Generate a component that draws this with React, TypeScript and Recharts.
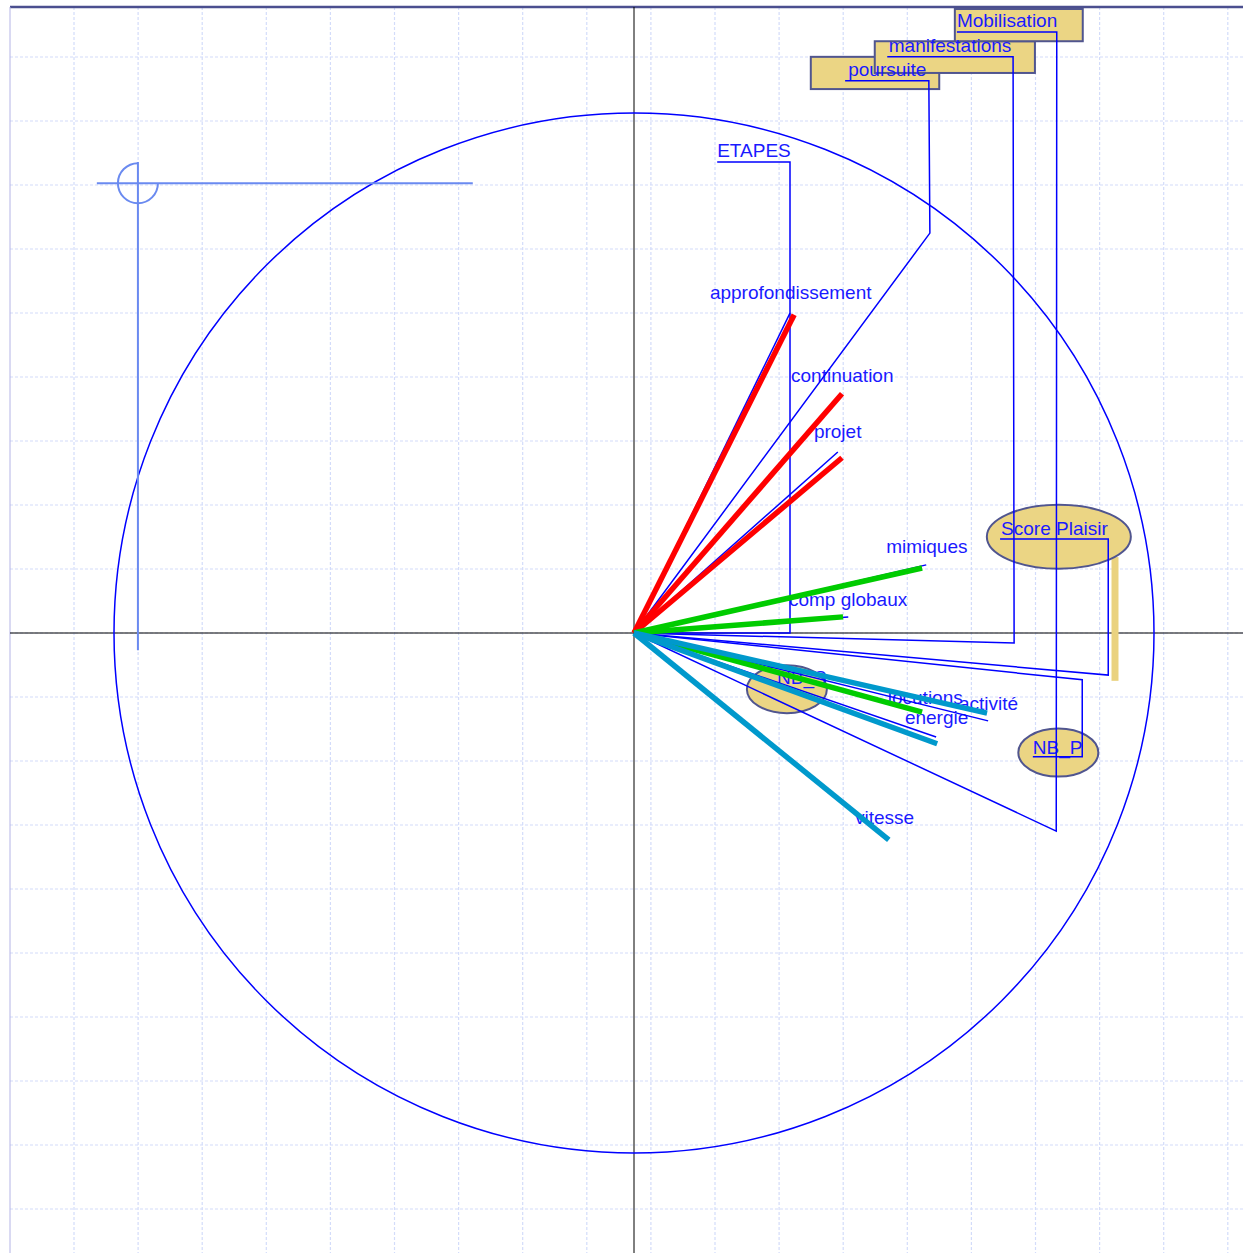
import React from 'react'
import {
  ScatterChart,
  Scatter,
  XAxis,
  YAxis,
  CartesianGrid,
  ReferenceLine,
} from 'recharts'

const W = 1243
const H = 1253
// plot frame and where the unit circle sits on the page
const LEFT = 10
const TOP = 7
const OX = 634
const OY = 633
const R = 520
const X_DOMAIN = [(LEFT - OX) / R, (W - OX) / R]
const Y_DOMAIN = [(OY - H) / R, (OY - TOP) / R]

// active variables (thick coloured vectors)
const redNames = ['approfondissement', 'continuation', 'projet']
const redX = [0.308, 0.4, 0.4]
const redY = [0.612, 0.46, 0.337]

const greenNames = ['mimiques', 'comp globaux', 'locutions']
const greenX = [0.554, 0.402, 0.554]
const greenY = [0.125, 0.031, -0.152]

const tealNames = ['activité', 'energie', 'vitesse']
const tealX = [0.679, 0.583, 0.49]
const tealY = [-0.154, -0.213, -0.398]

// thin blue vectors
const thinX = [0.3, 0.392, 0.562, 0.412, 0.681, 0.581]
const thinY = [0.615, 0.348, 0.131, 0.031, -0.169, -0.2]

// leaders to the supplementary labels
const leaderNames = ['Mobilisation', 'manifestations', 'poursuite', 'ETAPES', 'Score Plaisir', 'NB_P']
const leaderX = [
  [0, 0.812, 0.813, 0.621],
  [0, 0.731, 0.729, 0.487],
  [0, 0.569, 0.567, 0.406],
  [0, 0.3, 0.3, 0.16],
  [0, 0.912, 0.912, 0.704],
  [0, 0.862, 0.862, 0.767],
]
const leaderY = [
  [0, -0.381, 1.156, 1.156],
  [0, -0.019, 1.108, 1.108],
  [0, 0.769, 1.062, 1.062],
  [0, 0, 0.906, 0.906],
  [0, -0.081, 0.181, 0.181],
  [0, -0.09, -0.238, -0.238],
]

// text labels (left end of baseline)
const labelText = [
  'Mobilisation', 'manifestations', 'poursuite', 'ETAPES', 'approfondissement',
  'continuation', 'projet', 'mimiques', 'comp globaux', 'Score Plaisir',
  'locutions', 'activité', 'energie', 'NB_P', 'NB_S', 'vitesse',
]
const labelX = [0.621, 0.49, 0.412, 0.16, 0.146, 0.302, 0.346, 0.485, 0.298, 0.706, 0.488, 0.625, 0.521, 0.767, 0.275, 0.425]
const labelY = [1.165, 1.117, 1.071, 0.915, 0.642, 0.483, 0.375, 0.154, 0.052, 0.188, -0.137, -0.148, -0.175, -0.233, -0.098, -0.367]

// boxed labels
const boxNames = ['poursuite', 'manifestations', 'Mobilisation']
const boxX1 = [0.34, 0.463, 0.617]
const boxX2 = [0.587, 0.771, 0.863]
const boxY1 = [1.108, 1.138, 1.2]
const boxY2 = [1.046, 1.077, 1.138]

// ellipse labels
const ellipseNames = ['Score Plaisir', 'NB_P', 'NB_S']
const ellipseX = [0.817, 0.816, 0.294]
const ellipseY = [0.185, -0.23, -0.108]
const ellipseRx = [72, 40, 40]
const ellipseRy = [32, 24, 24]

// Score Plaisir bar
const barX = 0.925
const barY = [0.146, -0.092]

// marker symbol top left
const symbolX = -0.954
const symbolY = 0.865
const symbolH = [-1.033, -0.31]
const symbolV = [0.906, -0.033]

const PX = (W - LEFT) / (X_DOMAIN[1] - X_DOMAIN[0])
const BLUE = '#1a1aff'
const SAND = '#ebd584'
const EDGE = '#50558f'
const FONT = '"Liberation Sans", Arial, sans-serif'

const vGrid: number[] = []
for (let i = 0; i < 19; i++) vGrid.push(74 + i * 64.1)
const hGrid: number[] = []
for (let i = 0; i < 19; i++) hGrid.push(57 + i * 64)

const none = () => <g />

const vec = (x: number, y: number) => [
  { x: 0, y: 0 },
  { x, y },
]

export default function App() {
  return (
    <div style={{ position: 'absolute', left: 0, top: 0, width: W, height: H, background: '#fff' }}>
      <ScatterChart width={W} height={H} margin={{ top: TOP, right: 0, bottom: 0, left: LEFT }}>
        <XAxis type="number" dataKey="x" domain={X_DOMAIN} allowDataOverflow hide />
        <YAxis type="number" dataKey="y" domain={Y_DOMAIN} allowDataOverflow hide />
        <CartesianGrid
          verticalPoints={vGrid}
          horizontalPoints={hGrid}
          stroke="#d3dcfa"
          strokeWidth={1.2}
          strokeDasharray="3 2"
        />
        <ReferenceLine y={Y_DOMAIN[1]} stroke="#4b4f8f" strokeWidth={2.5} />
        <ReferenceLine x={X_DOMAIN[0]} stroke="#b4b4e6" strokeWidth={1} />
        <ReferenceLine y={0} stroke="#000" strokeWidth={1} />
        <ReferenceLine x={0} stroke="#000" strokeWidth={1} />

        {/* correlation circle */}
        <Scatter
          data={[{ x: 0, y: 0 }]}
          isAnimationActive={false}
          shape={(p: any) => (
            <circle cx={p.cx} cy={p.cy} r={PX} fill="none" stroke="#0000ff" strokeWidth={1.5} />
          )}
        />

        {/* marker symbol */}
        <Scatter
          data={[{ x: symbolH[0], y: symbolY }, { x: symbolH[1], y: symbolY }]}
          isAnimationActive={false}
          line={{ stroke: '#6a8af0', strokeWidth: 2 }}
          shape={none}
        />
        <Scatter
          data={[{ x: symbolX, y: symbolV[0] }, { x: symbolX, y: symbolV[1] }]}
          isAnimationActive={false}
          line={{ stroke: '#6a8af0', strokeWidth: 2 }}
          shape={none}
        />
        <Scatter
          data={[{ x: symbolX, y: symbolY }]}
          isAnimationActive={false}
          shape={(p: any) => (
            <path
              d={`M ${p.cx} ${p.cy - 20} A 20 20 0 1 0 ${p.cx + 20} ${p.cy}`}
              fill="none"
              stroke="#6a8af0"
              strokeWidth={2}
            />
          )}
        />

        {/* Score Plaisir bar */}
        <Scatter
          data={[{ x: barX, y: barY[0] }, { x: barX, y: barY[1] }]}
          isAnimationActive={false}
          line={{ stroke: '#ead27f', strokeWidth: 7 }}
          shape={none}
        />

        {boxNames.map((name, i) => (
          <Scatter
            key={'box-' + name}
            data={[{ x: boxX1[i], y: boxY1[i] }, { x: boxX2[i], y: boxY2[i] }]}
            isAnimationActive={false}
            shape={(p: any) =>
              p.index === 0 ? (
                <rect
                  x={p.cx}
                  y={p.cy}
                  width={(boxX2[i] - boxX1[i]) * PX}
                  height={(boxY1[i] - boxY2[i]) * PX}
                  fill={SAND}
                  stroke={EDGE}
                  strokeWidth={2}
                />
              ) : (
                <g />
              )
            }
          />
        ))}

        {ellipseNames.map((name, i) => (
          <Scatter
            key={'ell-' + name}
            data={[{ x: ellipseX[i], y: ellipseY[i] }]}
            isAnimationActive={false}
            shape={(p: any) => (
              <ellipse
                cx={p.cx}
                cy={p.cy}
                rx={ellipseRx[i]}
                ry={ellipseRy[i]}
                fill={SAND}
                stroke={EDGE}
                strokeWidth={2}
              />
            )}
          />
        ))}

        <Scatter
          data={labelText.map((t, i) => ({ x: labelX[i], y: labelY[i], t }))}
          isAnimationActive={false}
          shape={(p: any) => (
            <text x={p.cx} y={p.cy} fill={BLUE} fontSize={19} fontFamily={FONT}>
              {p.payload.t}
            </text>
          )}
        />

        {leaderNames.map((name, i) => (
          <Scatter
            key={'lead-' + name}
            data={leaderX[i].map((x, j) => ({ x, y: leaderY[i][j] }))}
            isAnimationActive={false}
            line={{ stroke: '#0000ff', strokeWidth: 1.5, strokeLinejoin: 'miter' }}
            shape={none}
          />
        ))}

        {thinX.map((x, i) => (
          <Scatter
            key={'thin-' + i}
            data={vec(x, thinY[i])}
            isAnimationActive={false}
            line={{ stroke: '#0000ff', strokeWidth: 1.5 }}
            shape={none}
          />
        ))}

        {redNames.map((name, i) => (
          <Scatter
            key={'red-' + name}
            data={vec(redX[i], redY[i])}
            isAnimationActive={false}
            line={{ stroke: '#ff0000', strokeWidth: 5.5 }}
            shape={none}
          />
        ))}
        {greenNames.map((name, i) => (
          <Scatter
            key={'green-' + name}
            data={vec(greenX[i], greenY[i])}
            isAnimationActive={false}
            line={{ stroke: '#00cc00', strokeWidth: 5.5 }}
            shape={none}
          />
        ))}
        {tealNames.map((name, i) => (
          <Scatter
            key={'teal-' + name}
            data={vec(tealX[i], tealY[i])}
            isAnimationActive={false}
            line={{ stroke: '#0099cc', strokeWidth: 5.5 }}
            shape={none}
          />
        ))}
      </ScatterChart>
    </div>
  )
}
